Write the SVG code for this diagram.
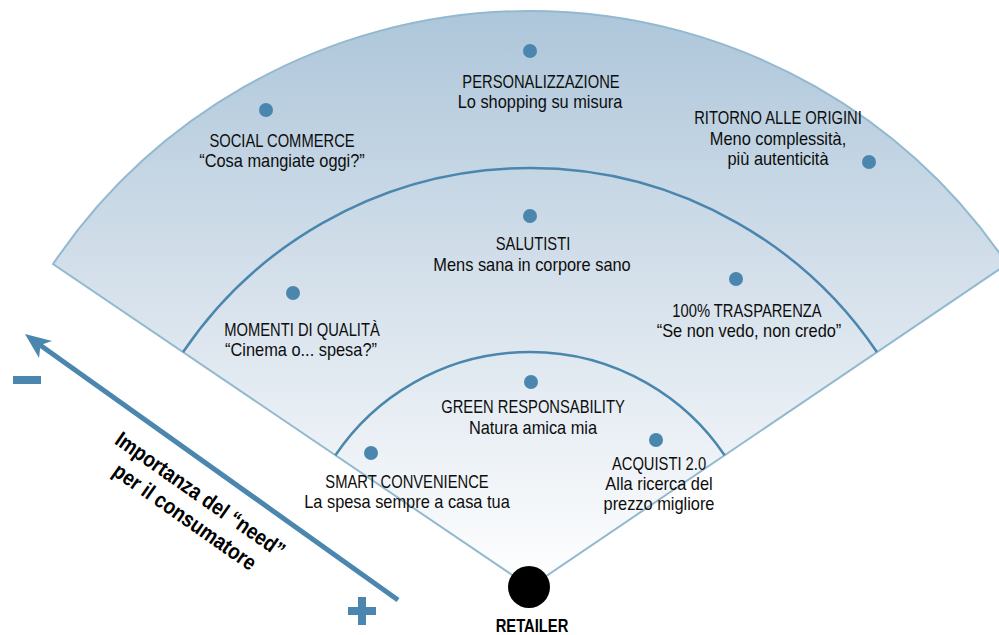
<svg xmlns="http://www.w3.org/2000/svg" width="999" height="635" viewBox="0 0 999 635">
<defs>
<linearGradient id="fanGrad" gradientUnits="userSpaceOnUse" x1="0" y1="10" x2="0" y2="587">
<stop offset="0" stop-color="#adc6da"/>
<stop offset="0.45" stop-color="#d3dfea"/>
<stop offset="1" stop-color="#ffffff"/>
</linearGradient>
<style>
.lbl{font-family:"Liberation Sans",Arial,sans-serif;font-size:18px;fill:#0d0d0d;text-anchor:middle}
.bold{font-weight:bold;fill:#000}
.dot{fill:#4a86ad}
.ring{fill:none;stroke:#4a86ad;stroke-width:2.5}
.edge{fill:url(#fanGrad);stroke:#92b9cf;stroke-width:2}
.blue{fill:#4a86ad}
</style>
</defs>
<rect width="999" height="635" fill="#ffffff"/>
<g id="fan">
<path class="edge" d="M530,587 L53,264.1 A576,576 0 0 1 1007,264.1 Z"/>
<path class="ring" d="M183.1,352 A419,419 0 0 1 876.9,352"/>
<path class="ring" d="M335.4,455.2 A235,235 0 0 1 724.6,455.2"/>
</g>
<g id="connectors">
<line x1="398" y1="600" x2="40" y2="345" stroke="#4a86ad" stroke-width="5"/>
<polygon class="blue" points="25,334 52,341 40.5,345 39,358"/>
</g>
<g id="axis-labels">
<rect class="blue" x="13" y="376" width="28" height="8"/>
<rect class="blue" x="348" y="607" width="28" height="8"/>
<rect class="blue" x="358" y="597" width="8" height="28"/>
<g transform="translate(200,495) rotate(35) scale(0.86,1)">
<text class="lbl bold" style="font-size:22px" x="0" y="7">Importanza del “need”</text>
<text class="lbl bold" style="font-size:22px" x="0" y="34">per il consumatore</text>
</g>
</g>
<g id="retailer">
<circle cx="529" cy="587" r="21" fill="#000"/>
<text class="lbl bold" transform="translate(532,632) scale(0.82,1)">RETAILER</text>
</g>
<g id="personalizzazione">
<circle class="dot" cx="530" cy="51" r="7"/>
<text class="lbl" transform="translate(541,88) scale(0.82,1)">PERSONALIZZAZIONE</text>
<text class="lbl" transform="translate(540,108) scale(0.91,1)">Lo shopping su misura</text>
</g>
<g id="social-commerce">
<circle class="dot" cx="266" cy="110" r="7"/>
<text class="lbl" transform="translate(282,147) scale(0.82,1)">SOCIAL COMMERCE</text>
<text class="lbl" transform="translate(282,167) scale(0.91,1)">“Cosa mangiate oggi?”</text>
</g>
<g id="ritorno-alle-origini">
<circle class="dot" cx="869" cy="162" r="7"/>
<text class="lbl" transform="translate(778,124) scale(0.82,1)">RITORNO ALLE ORIGINI</text>
<text class="lbl" transform="translate(778,145) scale(0.91,1)">Meno complessità,</text>
<text class="lbl" transform="translate(778,165) scale(0.91,1)">più autenticità</text>
</g>
<g id="salutisti">
<circle class="dot" cx="530" cy="216" r="7"/>
<text class="lbl" transform="translate(533,250) scale(0.82,1)">SALUTISTI</text>
<text class="lbl" transform="translate(532,271) scale(0.91,1)">Mens sana in corpore sano</text>
</g>
<g id="momenti-di-qualita">
<circle class="dot" cx="293" cy="293" r="7"/>
<text class="lbl" transform="translate(302,336) scale(0.82,1)">MOMENTI DI QUALITÀ</text>
<text class="lbl" transform="translate(301,356) scale(0.91,1)">“Cinema o... spesa?”</text>
</g>
<g id="trasparenza">
<circle class="dot" cx="736" cy="279" r="7"/>
<text class="lbl" transform="translate(747,317) scale(0.82,1)">100% TRASPARENZA</text>
<text class="lbl" transform="translate(749,337) scale(0.91,1)">“Se non vedo, non credo”</text>
</g>
<g id="green-responsability">
<circle class="dot" cx="531" cy="382" r="7"/>
<text class="lbl" transform="translate(533,413) scale(0.82,1)">GREEN RESPONSABILITY</text>
<text class="lbl" transform="translate(533,434) scale(0.91,1)">Natura amica mia</text>
</g>
<g id="smart-convenience">
<circle class="dot" cx="371" cy="453" r="7"/>
<text class="lbl" transform="translate(407,488) scale(0.82,1)">SMART CONVENIENCE</text>
<text class="lbl" transform="translate(407,508) scale(0.91,1)">La spesa sempre a casa tua</text>
</g>
<g id="acquisti">
<circle class="dot" cx="656" cy="440" r="7"/>
<text class="lbl" transform="translate(659,470) scale(0.82,1)">ACQUISTI 2.0</text>
<text class="lbl" transform="translate(659,490) scale(0.91,1)">Alla ricerca del</text>
<text class="lbl" transform="translate(659,510) scale(0.91,1)">prezzo migliore</text>
</g>
</svg>
